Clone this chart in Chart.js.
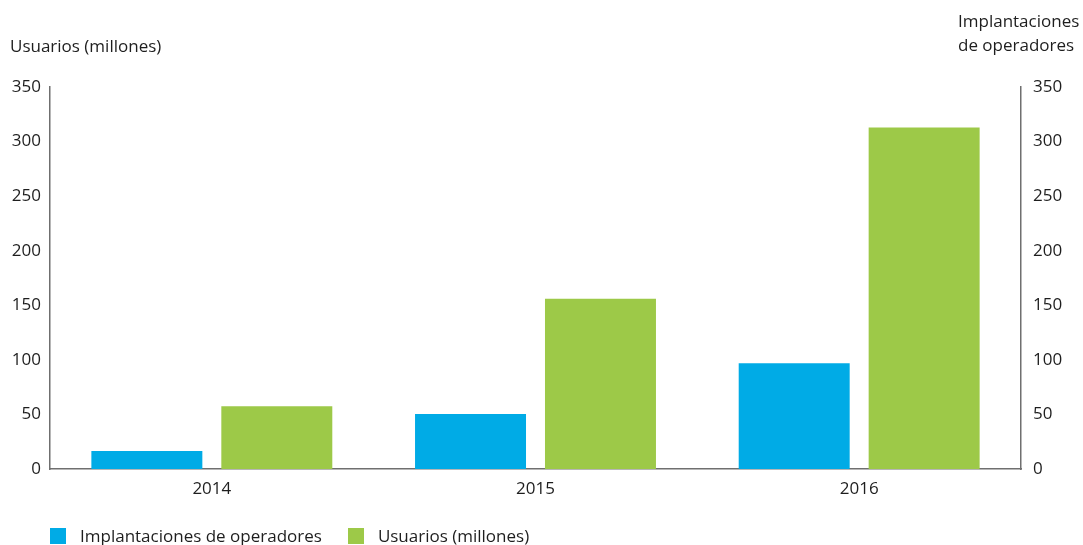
<!DOCTYPE html>
<html>
<head>
<meta charset="utf-8">
<script src="https://cdn.jsdelivr.net/npm/chart.js@4/dist/chart.umd.min.js"></script>
<style>
  html, body { margin: 0; padding: 0; background: #fff; }
  #wrap { position: relative; width: 1083px; height: 545px; font-family: "Open Sans", sans-serif; color: #1e1e1e; }
  #c { position: absolute; left: 0; top: 0; }
  .ttl { position: absolute; font-size: 17px; line-height: 24px; white-space: nowrap; }
  #legend { position: absolute; left: 50px; top: 525px; display: flex; font-size: 17px; line-height: 22px; }
  #legend span.item { display: flex; align-items: center; margin-right: 26px; }
  #legend i { display: inline-block; width: 16px; height: 16px; margin-right: 14px; }
</style>
</head>
<body>
<div id="wrap">
  <canvas id="c" width="1083" height="545"></canvas>
  <div class="ttl" style="left:10px; top:34px;">Usuarios (millones)</div>
  <div class="ttl" style="left:958px; top:9px;">Implantaciones<br>de operadores</div>
  <div id="legend"></div>
</div>
<script>
// data
const years = ['2014', '2015', '2016'];
const implantaciones = [16.5, 50.5, 97];
const usuarios = [57.5, 156, 313];
const tickValues = [0, 50, 100, 150, 200, 250, 300, 350];

const blue = '#00ABE6';
const green = '#9DC948';
const axisColor = '#6f6f6f';
const font = { family: 'Open Sans', size: 17 };

const datasets = [
  { label: 'Implantaciones de operadores', data: implantaciones, backgroundColor: blue, yAxisID: 'y2' },
  { label: 'Usuarios (millones)', data: usuarios, backgroundColor: green, yAxisID: 'y' }
];

function yScale(position, width, padding) {
  return {
    position: position,
    min: 0,
    max: 350,
    afterBuildTicks: s => { s.ticks = tickValues.map(v => ({ value: v })); },
    afterFit: s => { s.width = width; },
    grid: { display: false, drawTicks: false },
    border: { display: true, color: axisColor, width: 1.5 },
    ticks: { color: '#1e1e1e', font: font, padding: padding }
  };
}

new Chart(document.getElementById('c'), {
  type: 'bar',
  data: { labels: years, datasets: datasets },
  options: {
    responsive: false,
    animation: false,
    layout: { padding: { top: 87, left: 0, right: 0, bottom: 0 } },
    categoryPercentage: 0.803,
    barPercentage: 0.854,
    plugins: { legend: { display: false }, tooltip: { enabled: false } },
    scales: {
      x: {
        afterFit: s => { s.height = 76; },
        grid: { display: false, drawTicks: false },
        border: { display: true, color: axisColor, width: 1.5 },
        ticks: { color: '#1e1e1e', font: font, padding: 10 }
      },
      y: yScale('left', 50, 9),
      y2: yScale('right', 62, 12)
    }
  }
});

const legend = document.getElementById('legend');
datasets.forEach(d => {
  const item = document.createElement('span');
  item.className = 'item';
  const box = document.createElement('i');
  box.style.background = d.backgroundColor;
  item.appendChild(box);
  item.appendChild(document.createTextNode(d.label));
  legend.appendChild(item);
});
</script>
</body>
</html>
